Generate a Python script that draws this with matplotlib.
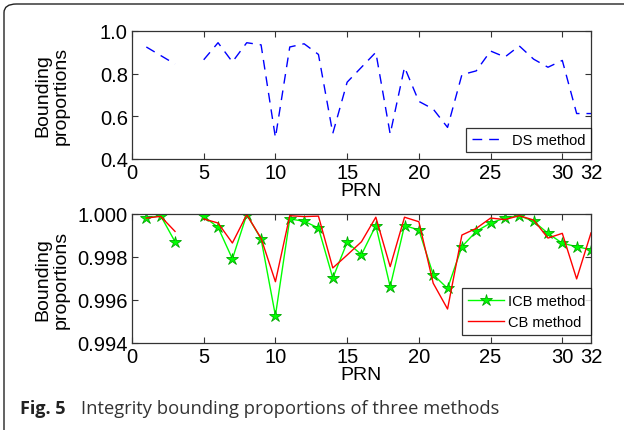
import numpy as np
import matplotlib
matplotlib.use("Agg")
import matplotlib.pyplot as plt
from matplotlib.patches import FancyBboxPatch

plt.rcParams['font.family'] = ['Liberation Sans', 'DejaVu Sans']

# PRN numbers (PRN 4 has no data)
prn = np.arange(1, 33)

# DS method bounding proportions (top panel)
ds = [0.925, 0.885, 0.845, np.nan, 0.865, 0.945, 0.855, 0.945, 0.935, 0.50,
      0.925, 0.94, 0.89, 0.52, 0.76, 0.83, 0.90, 0.517, 0.83, 0.67,
      0.634, 0.548, 0.795, 0.813, 0.906, 0.878, 0.93, 0.868, 0.83, 0.862,
      0.613, 0.613]

# ICB method (bottom panel, green stars)
icb = [0.99981, 0.99992, 0.99871, np.nan, 0.99989, 0.99938, 0.99791, 0.99997,
       0.99884, 0.99527, 0.99977, 0.99966, 0.99935, 0.99702, 0.99868, 0.99811,
       0.99946, 0.99662, 0.99946, 0.99926, 0.99718, 0.99654, 0.99848, 0.99919,
       0.99958, 0.99981, 0.99992, 0.99966, 0.99910, 0.99864, 0.99848, 0.99834]

# CB method (bottom panel, red)
cb = [0.99981, 0.99989, 0.99919, np.nan, 0.99977, 0.99958, 0.99865, 0.99997,
      0.99887, 0.99685, 0.99992, 0.99988, 0.99990, 0.99749, 0.99809, 0.99871,
      0.99985, 0.99755, 0.99985, 0.99964, 0.99678, 0.99558, 0.99902, 0.99933,
      0.99981, 0.99974, 0.99992, 0.99972, 0.99888, 0.99910, 0.99698, 0.99912]

xticks = [0, 5, 10, 15, 20, 25, 30, 32]

fig = plt.figure(figsize=(6.24, 4.31), dpi=100)

# rounded frame around the figure (partly cropped on right / bottom)
frame = FancyBboxPatch((4 / 624, -20 / 431), 640 / 624, 446 / 431,
                       boxstyle="round,pad=0,rounding_size=0.02",
                       transform=fig.transFigure, fill=False,
                       edgecolor='#222222', linewidth=1.0)
fig.patches.append(frame)

ax1 = fig.add_axes([0.2115, 0.6288, 0.7356, 0.297])
ax2 = fig.add_axes([0.2115, 0.2019, 0.7356, 0.2993])

ax1.plot(prn, ds, color='#0000ff', linestyle='--', dashes=(7, 5), lw=1.0,
         label='DS method')
ax1.set_ylim(0.4, 1.0)
ax1.set_yticks([0.4, 0.6, 0.8, 1.0])
ax1.set_yticklabels(['0.4', '0.6', '0.8', '1.0'])

ax2.plot(prn, icb, color='#00ff00', marker='*', markersize=9, lw=1.0,
         markerfacecolor='#00ff00', markeredgecolor='#00aa00',
         markeredgewidth=0.6, label='ICB method')
ax2.plot(prn, cb, color='#ff0000', lw=1.0, label='CB method')
ax2.set_ylim(0.994, 1.0)
ax2.set_yticks([0.994, 0.996, 0.998, 1.000])
ax2.set_yticklabels(['0.994', '0.996', '0.998', '1.000'])

for ax in (ax1, ax2):
    ax.set_xlim(0, 32)
    ax.set_xticks(xticks)
    ax.set_xticklabels([str(t) for t in xticks])
    ax.tick_params(direction='in', top=True, right=True, length=4,
                   labelsize=14.5, pad=3, color='#333333')
    for s in ax.spines.values():
        s.set_color('#333333')
        s.set_linewidth(0.9)
    ax.set_xlabel('PRN', fontsize=14, labelpad=0)
    ax.set_ylabel('Bounding\nproportions', fontsize=14, linespacing=1.15)
    ax.yaxis.set_label_coords(-0.135, 0.5)

leg1 = ax1.legend(loc='lower right', bbox_to_anchor=(1.0, 7 / 128),
                  fontsize=10.5, fancybox=False, edgecolor='black',
                  borderaxespad=0, handlelength=2.0, handletextpad=0.8,
                  borderpad=0.35)
leg1.get_frame().set_linewidth(0.9)
leg2 = ax2.legend(loc='lower right', bbox_to_anchor=(1.0, 8 / 129),
                  fontsize=10.5, fancybox=False, edgecolor='black',
                  borderaxespad=0, handlelength=2.5, handletextpad=0.25,
                  borderpad=0.4, labelspacing=0.5)
leg2.get_frame().set_linewidth(0.9)

fig.text(20 / 624, 1 - 409 / 431, 'Fig. 5', fontsize=13, fontweight='bold',
         family=['Open Sans', 'DejaVu Sans'], color='#222222', va='center')
fig.text(81 / 624, 1 - 409 / 431,
         'Integrity bounding proportions of three methods', fontsize=13.2,
         family=['Open Sans', 'DejaVu Sans'], color='#333333', va='center')

fig.savefig('out.png', dpi=100)
